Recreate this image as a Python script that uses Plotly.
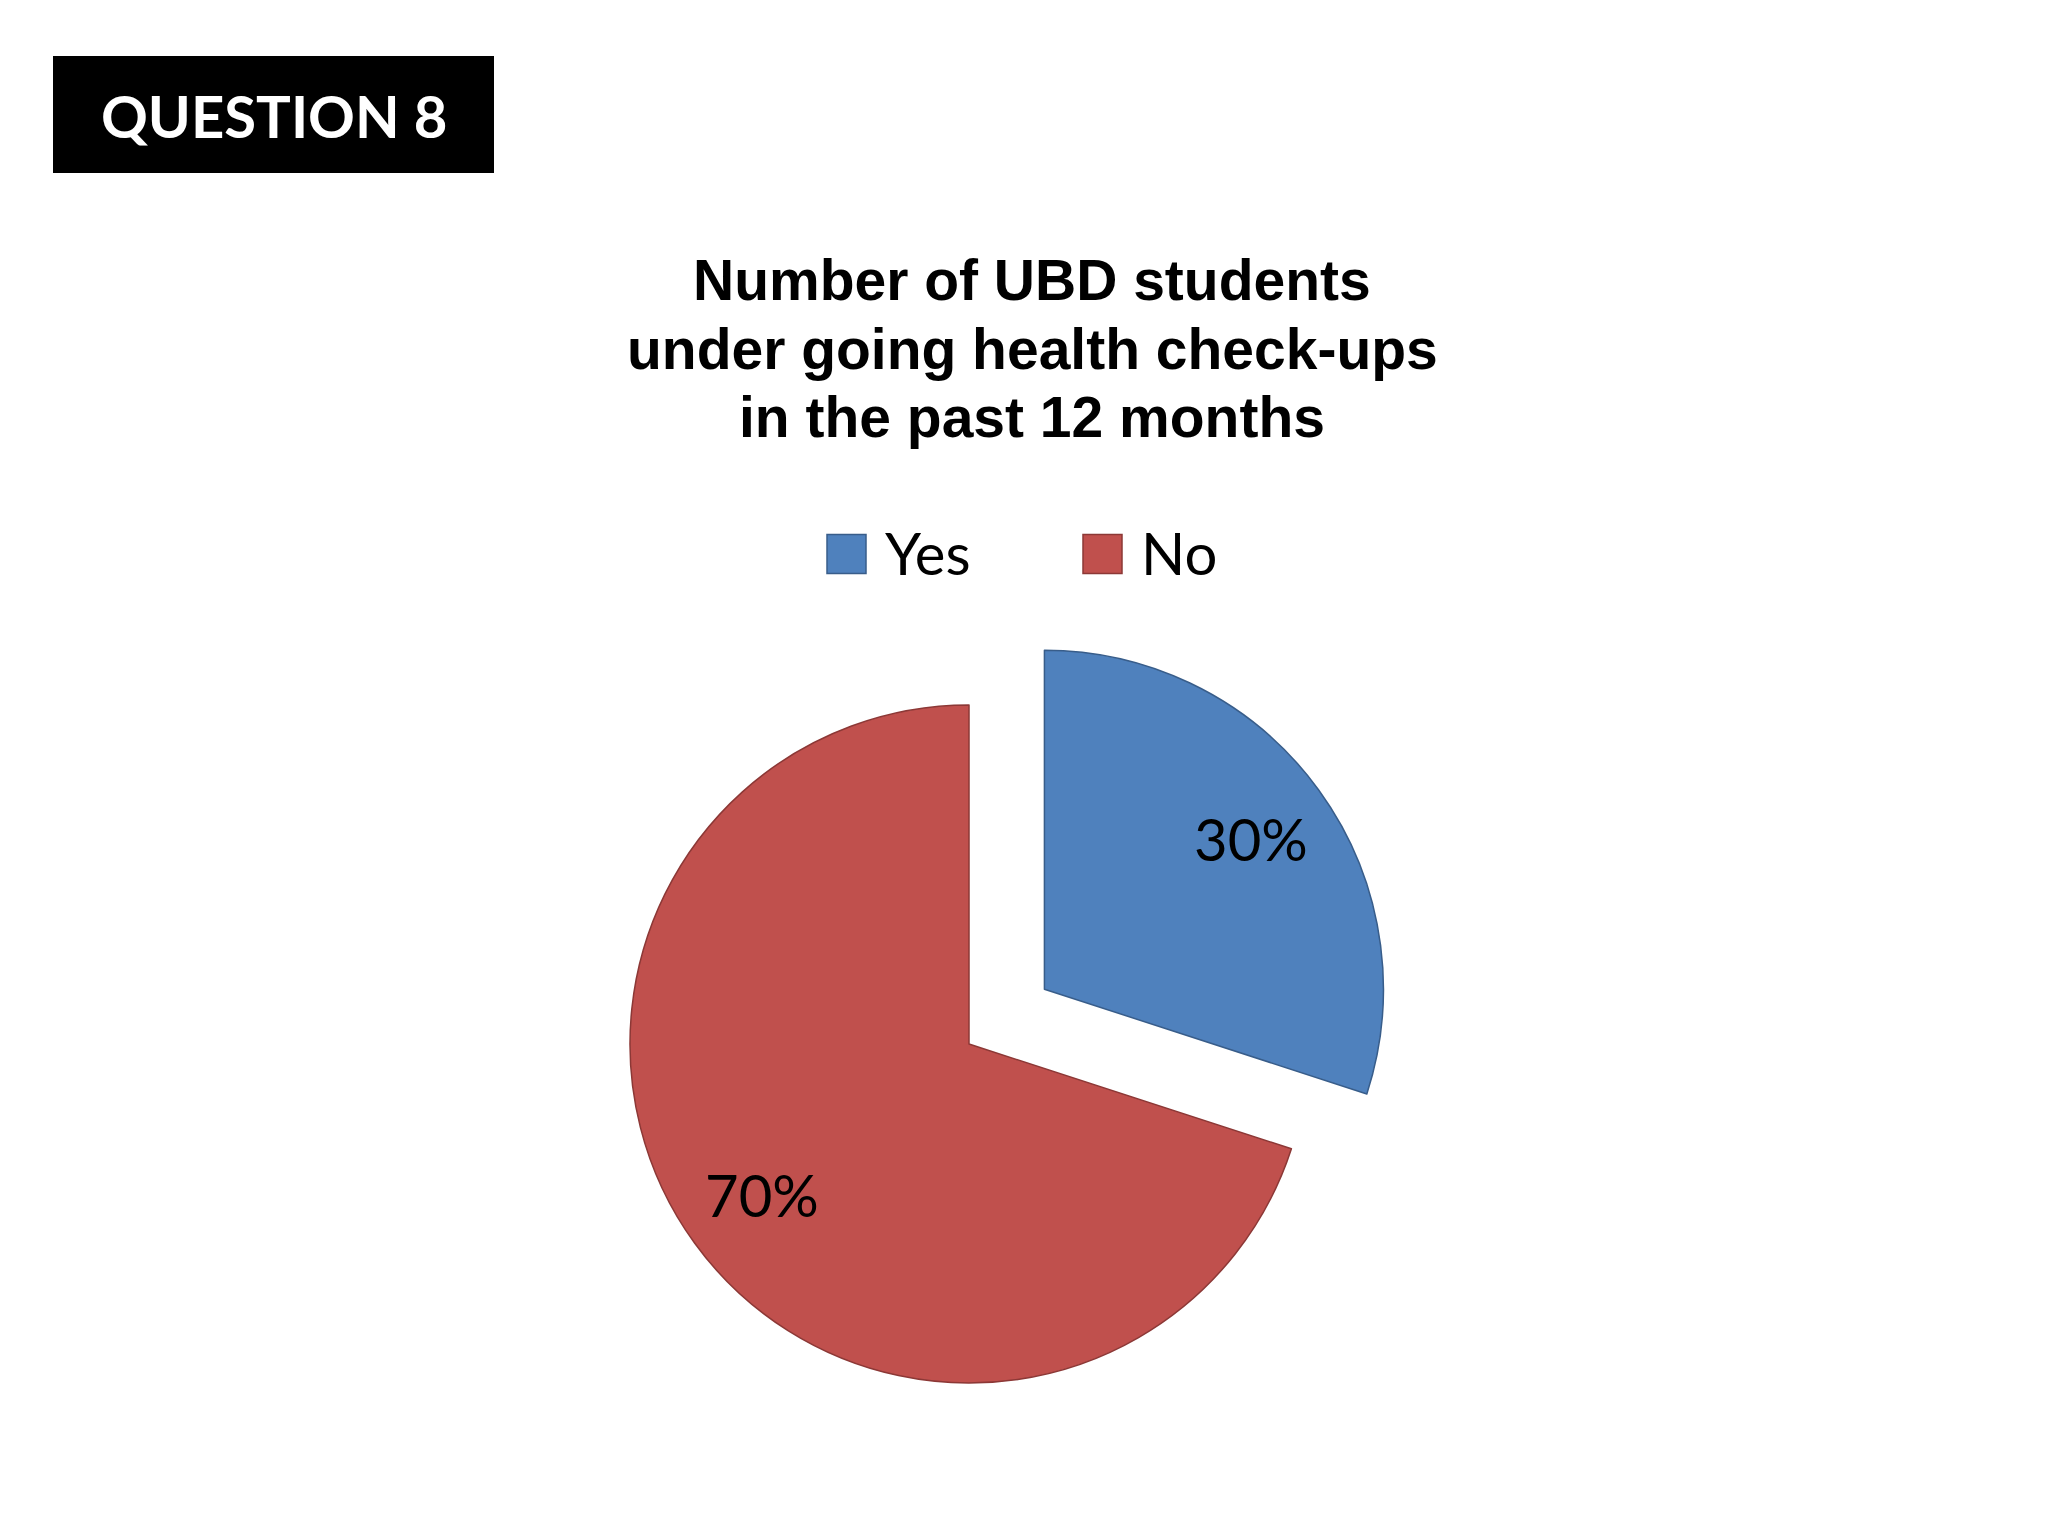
import numpy as np
import plotly.graph_objects as go

# ---- data ----
labels = ["Yes", "No"]
values = [30, 70]
pulls = [0.275, 0.0]
fill_colors = ["#4F81BD", "#C0504D"]
line_colors = ["#385D8A", "#8C3836"]
title_lines = ["Number of UBD students", "under going health check-ups", "in the past 12 months"]
slide_heading = "QUESTION 8"

# ---- layout constants (screen pixels) ----
W, H = 2048, 1536
OFF = 8                               # page body margin
CX, CY, R = 969 - OFF, 1044 - OFF, 339  # centre / radius of the un-pulled pie (figure px)
LABEL_R = 0.755                       # radial position of % labels (fraction of R)
half = R * (1 + max(pulls))
dom_x = [(CX - half) / W, (CX + half) / W]
dom_y = [1 - (CY + half) / H, 1 - (CY - half) / H]

fig = go.Figure(
    go.Pie(
        labels=labels,
        values=values,
        pull=pulls,
        sort=False,
        direction="clockwise",
        rotation=0,
        marker=dict(colors=fill_colors, line=dict(color=line_colors, width=1.5)),
        textinfo="none",
        hoverinfo="label+percent",
        showlegend=False,
        domain=dict(x=dom_x, y=dom_y),
    )
)

def fpx(x, y):
    """figure pixel -> paper fraction"""
    return x / W, 1 - y / H

def spx(x, y):
    """screen pixel -> paper fraction"""
    return fpx(x - OFF, y - OFF)

# percentage labels placed along each slice bisector
tot = float(sum(values))
cum = 0.0
for lab, v, p in zip(labels, values, pulls):
    mid = 2 * np.pi * (cum + v / 2) / tot
    cum += v
    dx, dy = np.sin(mid), -np.cos(mid)
    lx = CX + (p + LABEL_R) * R * dx
    ly = CY + (p + LABEL_R) * R * dy
    ax, ay = fpx(lx, ly)
    fig.add_annotation(x=ax, y=ay, xref="paper", yref="paper", showarrow=False,
                       text=f"{round(100 * v / tot)}%", xanchor="center", yanchor="middle",
                       font=dict(family="Lato", size=58, color="black"))

# legend (large square swatches)
LEG_X0, LEG_STEP, LEG_Y, SW = 827, 256, 554, 39
for i, (lab, fc, lc) in enumerate(zip(labels, fill_colors, line_colors)):
    x0 = LEG_X0 + i * LEG_STEP
    sx0, sy0 = spx(x0, LEG_Y + SW / 2)
    sx1, sy1 = spx(x0 + SW, LEG_Y - SW / 2)
    fig.add_shape(type="rect", xref="paper", yref="paper",
                  x0=sx0, x1=sx1, y0=sy0, y1=sy1,
                  fillcolor=fc, line=dict(color=lc, width=1.5))
    tx, ty = spx(x0 + SW + 17, LEG_Y - 2)
    fig.add_annotation(x=tx, y=ty, xref="paper", yref="paper", showarrow=False, text=lab,
                       xanchor="left", yanchor="middle",
                       font=dict(family="Lato", size=58, color="black"))

# chart title (three lines)
TITLE_X, TITLE_Y0, TITLE_STEP = 1032, 280, 68.5
for i, line in enumerate(title_lines):
    tx, ty = spx(TITLE_X, TITLE_Y0 + i * TITLE_STEP)
    fig.add_annotation(x=tx, y=ty, xref="paper", yref="paper", showarrow=False, text=f"<b>{line}</b>",
                       xanchor="center", yanchor="middle",
                       font=dict(family="Liberation Sans, Arial", size=57, color="black"))

# slide heading box
bx0, by0 = spx(53, 173)
bx1, by1 = spx(494, 56)
fig.add_shape(type="rect", xref="paper", yref="paper",
              x0=bx0, x1=bx1, y0=by0, y1=by1,
              fillcolor="black", line=dict(color="black", width=0))
hx, hy = spx(274, 115)
fig.add_annotation(x=hx, y=hy, xref="paper", yref="paper", showarrow=False, text=f"<b>{slide_heading}</b>",
                   xanchor="center", yanchor="middle",
                   font=dict(family="Lato", size=58, color="white"))

fig.update_layout(
    width=W, height=H,
    margin=dict(l=0, r=0, t=0, b=0),
    paper_bgcolor="white", plot_bgcolor="white",
    showlegend=False,
)

fig.write_html("out.html")
